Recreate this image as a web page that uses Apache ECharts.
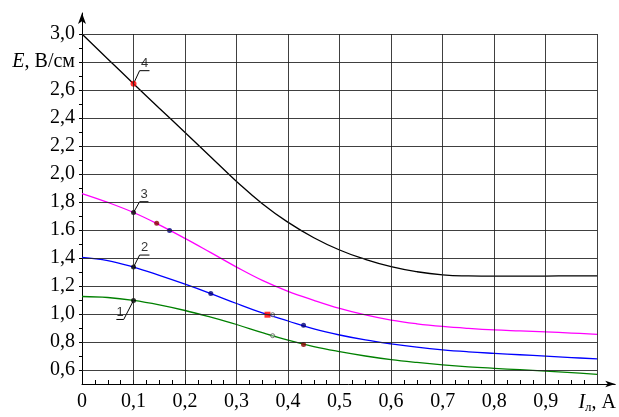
<!DOCTYPE html>
<html>
<head>
<meta charset="utf-8">
<script src="https://cdn.jsdelivr.net/npm/echarts@6/dist/echarts.min.js"></script>
<style>html,body{margin:0;padding:0;background:#fff;}#c{width:619px;height:417px;}</style>
</head>
<body>
<div id="c"></div>
<script>
// ---- data ----
const xValues = [0,0.05,0.1,0.15,0.2,0.25,0.3,0.35,0.4,0.45,0.5,0.55,0.6,0.65,0.7,0.75,0.8,0.85,0.9,0.95,1.0];
const curve1 = [1.125,1.118,1.097,1.065,1.025,0.977,0.925,0.867,0.813,0.767,0.731,0.700,0.674,0.654,0.637,0.623,0.612,0.602,0.592,0.581,0.569];
const curve2 = [1.405,1.382,1.335,1.276,1.213,1.146,1.075,1.008,0.950,0.894,0.850,0.815,0.787,0.763,0.744,0.730,0.719,0.709,0.699,0.689,0.679];
const curve3 = [1.860,1.797,1.725,1.637,1.540,1.438,1.335,1.240,1.162,1.098,1.040,0.993,0.956,0.930,0.911,0.897,0.886,0.879,0.872,0.864,0.855];
const curve4 = [3.000,2.822,2.645,2.470,2.297,2.122,1.947,1.788,1.655,1.545,1.457,1.390,1.338,1.302,1.280,1.272,1.270,1.270,1.271,1.272,1.272];

const points1 = [[0.1,1.097],[0.37,0.845],[0.43,0.783]];
const points2 = [[0.1,1.335],[0.25,1.146],[0.36,0.995],[0.37,0.995],[0.43,0.920]];
const points3 = [[0.1,1.725],[0.145,1.648],[0.17,1.597]];
const points4 = [[0.1,2.645]];

const curveNames = ['1','2','3','4'];
// leader lines: dot -> bend -> end of underline ; text anchor
const leader1 = [[0.1,1.097],[0.081,0.961],[0.0667,0.961]];
const leader2 = [[0.1,1.335],[0.1118,1.421],[0.131,1.421]];
const leader3 = [[0.1,1.725],[0.1118,1.802],[0.129,1.802]];
const leader4 = [[0.1,2.645],[0.1118,2.738],[0.131,2.738]];
const labelAt = [[0.0739,0.961],[0.1214,1.421],[0.1204,1.802],[0.1214,2.738]];

const xLabelValues = [0,0.1,0.2,0.3,0.4,0.5,0.6,0.7,0.8,0.9,1.0];
const xTickLabels = ['0','0,1','0,2','0,3','0,4','0,5','0,6','0,7','0,8','0,9','{i|I}{s|л}{n|, А}'];
const yLabelValues = [0.6,0.8,1.0,1.2,1.4,1.6,1.8,2.0,2.2,2.4,2.6,2.8,3.0];
const yTickLabels = ['0,6','0,8','1,0','1,2','1,4','1.6','1,8','2,0','2,2','2,4','2,6','{e|E}{n|, В/см}','3,0'];
const xMinorTicks = [];
for (let i = 0; i <= 40; i++) xMinorTicks.push(+(i*0.025).toFixed(3));
const yMinorTicks = [];
for (let i = 6; i <= 30; i++) yMinorTicks.push(+(i*0.1).toFixed(1));
const gridX = [0.1,0.2,0.3,0.4,0.5,0.6,0.7,0.8,0.9,1.0];
const gridY = [0.6,0.8,1.0,1.2,1.4,1.6,1.8,2.0,2.2,2.4,2.6,2.8,3.0];

// ---- styles ----
const curveColors = ['#008000','#0000ff','#ff00ff','#000000'];
const curveSmooth = [0.4, 0.4, 0.4, 0.5];
const pointStyles = [
  ['black','open','darkred'],
  ['black','navy','redsq','open','navy'],
  ['black','darkred','navy'],
  ['red']
];
function styled(p, s) {
  const base = {value: p, symbol: 'circle', symbolSize: 5, itemStyle: {color: '#000'}};
  if (s === 'open') { base.symbol = 'circle'; base.itemStyle = {color: 'rgba(255,255,255,0.5)', borderColor: '#555', borderWidth: 1}; base.symbolSize = 4; }
  else if (s === 'darkred') base.itemStyle = {color: '#8b0000'};
  else if (s === 'navy') base.itemStyle = {color: '#00007a'};
  else if (s === 'red') { base.itemStyle = {color: '#ff0000'}; base.symbolSize = 6; }
  else if (s === 'redsq') { base.symbol = 'rect'; base.itemStyle = {color: '#ff0000'}; base.symbolSize = 6; }
  return base;
}
function idxOf(arr, v) {
  for (let i = 0; i < arr.length; i++) if (Math.abs(arr[i] - v) < 1e-6) return i;
  return -1;
}
const serif = '"Liberation Serif", "Times New Roman", serif';
const sans = '"Liberation Sans", Arial, sans-serif';
const curves = [curve1, curve2, curve3, curve4];
const points = [points1, points2, points3, points4];
const leaders = [leader1, leader2, leader3, leader4];

const series = [];
series.push({
  type: 'line', data: [], z: 1, silent: true, symbol: 'none',
  markLine: {
    silent: true, symbol: ['none','none'], animation: false,
    label: {show: false},
    lineStyle: {color: '#1e1e1e', width: 1, type: 'solid', opacity: 0.85},
    emphasis: {disabled: true},
    data: gridX.map(x => [{coord: [x, 0.5]}, {coord: [x, 3.0]}])
      .concat(gridY.map(y => [{coord: [0, y]}, {coord: [1.0, y]}]))
  }
});
curves.forEach((c, k) => {
  series.push({
    type: 'line', z: 2, smooth: curveSmooth[k], symbol: 'none', silent: true,
    data: xValues.map((x, i) => [x, c[i]]),
    lineStyle: {color: curveColors[k], width: 1.3}
  });
});
points.forEach((pts, k) => {
  series.push({
    type: 'scatter', z: 4, silent: true,
    data: pts.map((p, i) => styled(p, pointStyles[k][i]))
  });
});
leaders.forEach((l, k) => {
  series.push({
    type: 'line', z: 3, symbol: 'none', silent: true, data: l,
    lineStyle: {color: '#000', width: 1}
  });
  series.push({
    type: 'scatter', z: 5, silent: true, symbolSize: 0,
    data: [labelAt[k]],
    label: {show: true, position: 'top', distance: 1, formatter: curveNames[k],
      fontFamily: sans, fontSize: 13, color: '#000'}
  });
});

const chart = echarts.init(document.getElementById('c'), null, {renderer: 'canvas'});
chart.setOption({
  animation: false,
  backgroundColor: '#fff',
  grid: {left: 82, right: 3, top: 13, bottom: 33},
  xAxis: {
    type: 'value', min: 0, max: 1.035,
    axisLine: {show: true, symbol: ['none','arrow'], symbolSize: [5, 10], lineStyle: {color: '#000', width: 1}},
    axisTick: {show: true, inside: true, length: 4, customValues: xMinorTicks, lineStyle: {color: '#000'}},
    splitLine: {show: false},
    axisLabel: {
      customValues: xLabelValues, margin: 8, color: '#000', fontFamily: serif, fontSize: 20,
      formatter: v => { const i = idxOf(xLabelValues, v); return i < 0 ? '' : xTickLabels[i]; },
      rich: {
        i: {fontFamily: serif, fontSize: 20, fontStyle: 'italic', color: '#000'},
        s: {fontFamily: serif, fontSize: 13, color: '#000', padding: [9, 0, 0, 0]},
        n: {fontFamily: serif, fontSize: 20, color: '#000'}
      }
    }
  },
  yAxis: {
    type: 'value', min: 0.5, max: 3.15,
    axisLine: {show: true, symbol: ['none','arrow'], symbolSize: [6, 11], lineStyle: {color: '#000', width: 1}},
    axisTick: {show: true, inside: false, length: 3, customValues: yMinorTicks, lineStyle: {color: '#000'}},
    splitLine: {show: false},
    axisLabel: {
      customValues: yLabelValues, margin: 7, color: '#000', fontFamily: serif, fontSize: 20,
      formatter: v => { const i = idxOf(yLabelValues, v); return i < 0 ? '' : yTickLabels[i]; },
      rich: {
        e: {fontFamily: serif, fontSize: 20, fontStyle: 'italic', color: '#000'},
        n: {fontFamily: serif, fontSize: 20, color: '#000'}
      }
    }
  },
  series: series
});
</script>
</body>
</html>
